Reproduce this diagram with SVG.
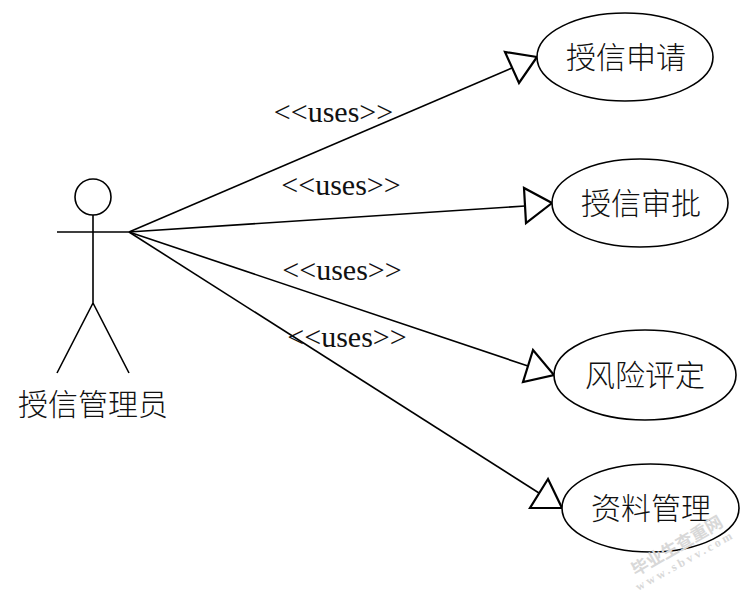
<svg xmlns="http://www.w3.org/2000/svg" width="751" height="594" viewBox="0 0 751 594">
<style>
.s{fill:none;stroke:#000;stroke-width:1.6}
.e{fill:#fff;stroke:#000;stroke-width:1.6}
.a{fill:#fff;stroke:#000;stroke-width:2.2;stroke-linejoin:miter}
.t{font-family:"Noto Sans CJK SC","Liberation Serif",sans-serif;font-size:30px;font-weight:300;fill:#111;text-anchor:middle}
.u{font-family:"Liberation Serif",serif;font-size:30px;fill:#111;text-anchor:middle}
.w1{font-family:"Noto Sans CJK SC",sans-serif;font-size:17px;font-weight:700;fill:#d8d8d8;text-anchor:middle}
.w2{font-family:"Liberation Serif",serif;font-size:12px;font-weight:700;fill:#d8d8d8;text-anchor:middle;letter-spacing:3px}
</style>
<rect width="751" height="594" fill="#fff"/>
<g id="connectors">
<path class="s" d="M129 232L512 68"/>
<path class="s" d="M129 232L525 206"/>
<path class="s" d="M129 232L528 366"/>
<path class="s" d="M129 232L539 493"/>
<polygon class="a" points="505,52 519,83 537,57"/>
<polygon class="a" points="524,188 526,223 552,203"/>
<polygon class="a" points="533,350 523,382 554,375"/>
<polygon class="a" points="548,479 530,508 562,508"/>
<text class="u" x="333.500" y="122">&lt;&lt;uses&gt;&gt;</text>
<text class="u" x="341" y="195">&lt;&lt;uses&gt;&gt;</text>
<text class="u" x="342" y="280">&lt;&lt;uses&gt;&gt;</text>
<text class="u" x="347" y="347">&lt;&lt;uses&gt;&gt;</text>
</g>
<g id="actor">
<circle class="s" cx="93" cy="197" r="18"/>
<path class="s" d="M93 215V303M57 232H129M93 303L57 373M93 303L129 373"/>
<text class="t" x="93" y="415">授信管理员</text>
</g>
<g id="uc1"><ellipse class="e" cx="625" cy="57" rx="88" ry="44"/><text class="t" x="626" y="68">授信申请</text></g>
<g id="uc2"><ellipse class="e" cx="640" cy="203" rx="88" ry="44"/><text class="t" x="641" y="214">授信审批</text></g>
<g id="uc3"><ellipse class="e" cx="645" cy="375" rx="91" ry="45"/><text class="t" x="645" y="386">风险评定</text></g>
<g id="uc4"><ellipse class="e" cx="650.500" cy="508" rx="88.500" ry="44"/><text class="t" x="651" y="519">资料管理</text></g>
<g id="watermark">
<text class="w1" transform="translate(680 551) rotate(-30)">毕业生查重网</text>
<text class="w2" transform="translate(687 564) rotate(-29)">www.sbvv.com</text>
</g>
</svg>
